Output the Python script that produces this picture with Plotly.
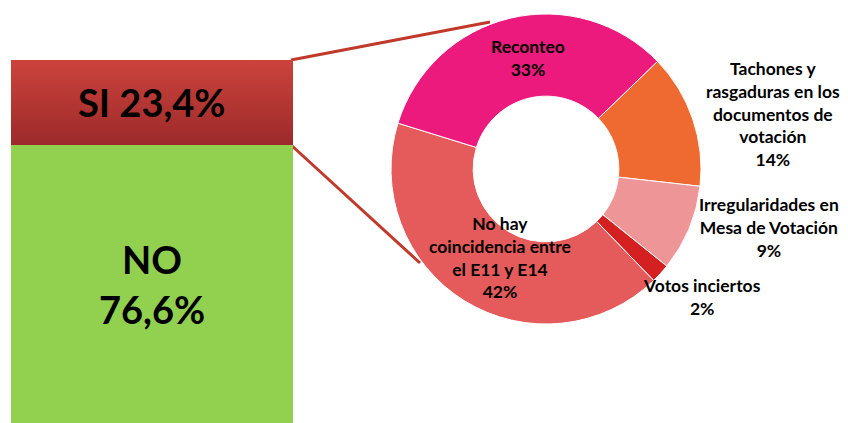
import plotly.graph_objects as go

# Left stacked bar
bar_labels = ["NO", "SI"]
bar_values = [76.6, 23.4]
bar_texts = ["NO<br>76,6%", "SI 23,4%"]
bar_colors = ["#92D050", "#B3332F"]
si_gradient = [[0, "#9C2A2A"], [1, "#CC433C"]]

# Donut (breakdown of SI)
pie_labels = ["Tachones y<br>rasgaduras en los<br>documentos de<br>votación",
              "Irregularidades en<br>Mesa de Votación",
              "Votos inciertos",
              "No hay<br>coincidencia entre<br>el E11 y E14",
              "Reconteo"]
pie_values = [14, 9, 2, 42, 33]
pie_colors = ["#EE6A30", "#EE9598", "#D42020", "#E55A5A", "#EC1A7C"]

W, H = 832, 423
OFF = 8  # page offset of the figure in the browser window
FONT = "Lato"

def sx(px):
    return (px - OFF) / W

def sy(py):
    return 1 - (py - OFF) / H

fig = go.Figure()

# NO segment: plain bar with its text
fig.add_trace(go.Bar(
    x=[0], y=[bar_values[0]], name=bar_labels[0],
    marker=dict(color=bar_colors[0], line=dict(width=0)),
    text=[bar_texts[0]], textposition="inside", insidetextanchor="middle",
    textfont=dict(family=FONT, size=38, color="black", weight="bold"),
    width=1, showlegend=False, hoverinfo="skip",
))

# SI segment: stacked on top, drawn as a gradient-filled area
y_lo = bar_values[0]
y_hi = bar_values[0] + bar_values[1]
fig.add_trace(go.Scatter(
    x=[-0.5, 0.5, 0.5, -0.5, -0.5], y=[y_lo, y_lo, y_hi, y_hi, y_lo],
    mode="lines", line=dict(width=0), fill="toself",
    fillgradient=dict(type="vertical", colorscale=si_gradient),
    fillcolor=bar_colors[1], showlegend=False, hoverinfo="skip", name=bar_labels[1],
))

# donut geometry (screen pixels)
cx, cy, R = 546, 169, 155
fig.add_trace(go.Pie(
    labels=pie_labels, values=pie_values, sort=False, direction="clockwise",
    rotation=46, hole=0.47, textinfo="none", showlegend=False,
    marker=dict(colors=pie_colors, line=dict(color="white", width=1)),
    domain=dict(x=[sx(cx - R), sx(cx + R)], y=[sy(cy + R), sy(cy - R)]),
))

annotations = [dict(
    x=0, y=(y_lo + y_hi) / 2, xref="x", yref="y", text=bar_texts[1], showarrow=False,
    font=dict(family=FONT, size=38, color="black", weight="bold"),
    xanchor="center", yanchor="middle",
)]

# label positions (screen pixels)
label_pos = [(773, 114), (769, 227), (702, 297), (500, 258), (528, 58)]
for lab, val, (px, py) in zip(pie_labels, pie_values, label_pos):
    annotations.append(dict(
        x=sx(px), y=sy(py), xref="paper", yref="paper",
        text=f"{lab}<br>{val}%", showarrow=False,
        font=dict(family=FONT, size=17.5, color="black", weight="bold"),
        xanchor="center", yanchor="middle", align="center",
    ))

line_col = "#C0392B"
shapes = [
    dict(type="line", xref="paper", yref="paper",
         x0=sx(291), y0=sy(60), x1=sx(490), y1=sy(22),
         line=dict(color=line_col, width=3), layer="below"),
    dict(type="line", xref="paper", yref="paper",
         x0=sx(291), y0=sy(145), x1=sx(420), y1=sy(263),
         line=dict(color=line_col, width=3), layer="below"),
]

fig.update_layout(
    width=W, height=H, margin=dict(l=0, r=0, t=0, b=0),
    paper_bgcolor="white", plot_bgcolor="rgba(0,0,0,0)",
    barmode="stack", bargap=0,
    xaxis=dict(domain=[sx(11), sx(293)], range=[-0.5, 0.5], visible=False, fixedrange=True),
    yaxis=dict(domain=[sy(423), sy(60)], range=[0, 100], visible=False, fixedrange=True),
    annotations=annotations, shapes=shapes,
)

fig.write_html("out.html")
